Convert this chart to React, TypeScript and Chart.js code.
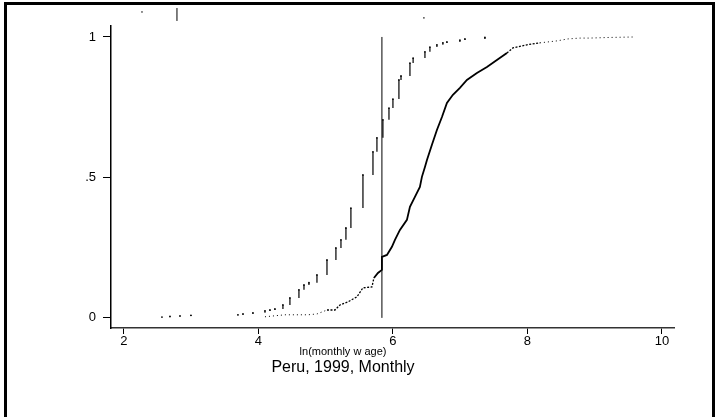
import React, { useEffect, useRef } from "react";
import { Chart, registerables } from "chart.js";

Chart.register(...registerables);

const FONT = '"Liberation Sans", Arial, Helvetica, sans-serif';

const xTicks = [2, 4, 6, 8, 10];
const yTicks = [0, 0.5, 1];
const yTickLabels = ["0", ".5", "1"];
const xTitle = "ln(monthly w age)";
const chartTitle = "Peru, 1999, Monthly";

// reference line (cut-off)
const cutoffX = 5.836;

// left (sparser) cumulative distribution
const leftX = [2.565, 2.684, 2.833, 2.996, 3.695, 3.77, 3.918, 4.097, 4.171, 4.245, 4.364, 4.468, 4.602, 4.677, 4.751, 4.87, 5.019, 5.152, 5.227, 5.301, 5.375, 5.554, 5.703, 5.762, 5.851, 5.941, 6.0, 6.089, 6.12, 6.253, 6.3, 6.476, 6.55, 6.654, 6.743, 6.803, 6.996, 7.071, 7.368];
const leftF = [0.003, 0.005, 0.007, 0.009, 0.011, 0.014, 0.018, 0.025, 0.028, 0.032, 0.046, 0.071, 0.1, 0.117, 0.125, 0.153, 0.206, 0.249, 0.278, 0.32, 0.391, 0.509, 0.591, 0.641, 0.705, 0.747, 0.779, 0.847, 0.861, 0.907, 0.925, 0.947, 0.964, 0.972, 0.979, 0.982, 0.989, 0.993, 0.998];

// right (denser) cumulative distribution
const rightX = [4.097, 4.394, 4.468, 4.617, 4.736, 4.87, 5.019, 5.138, 5.212, 5.331, 5.465, 5.554, 5.688, 5.717, 5.777, 5.836, 5.836, 5.911, 5.985, 6.03, 6.104, 6.208, 6.253, 6.327, 6.401, 6.431, 6.476, 6.506, 6.58, 6.654, 6.729, 6.803, 6.892, 6.996, 7.1, 7.249, 7.398, 7.546, 7.695, 7.784, 7.993, 8.186, 8.439, 8.602, 8.781, 8.929, 9.182, 9.599];
const rightF = [0.004, 0.011, 0.011, 0.011, 0.011, 0.014, 0.028, 0.028, 0.046, 0.057, 0.075, 0.107, 0.11, 0.142, 0.16, 0.171, 0.217, 0.224, 0.253, 0.278, 0.313, 0.349, 0.395, 0.431, 0.466, 0.502, 0.537, 0.562, 0.616, 0.669, 0.715, 0.765, 0.794, 0.819, 0.847, 0.872, 0.893, 0.918, 0.943, 0.961, 0.972, 0.979, 0.986, 0.993, 0.996, 0.996, 0.998, 1.0];

// stray marks above the plot (short vertical ticks: bottom / top values)
const strayX = [2.268, 2.788, 6.461];
const strayLow = [1.086, 1.057, 1.065];
const strayHigh = [1.092, 1.103, 1.071];

export default function App() {
  const ref = useRef<HTMLCanvasElement | null>(null);

  useEffect(() => {
    const canvas = ref.current;
    if (!canvas) return;

    const leftVerticals: any[] = [];
    for (let i = 1; i < leftX.length; i++) {
      leftVerticals.push({ x: leftX[i], y: leftF[i - 1] });
      leftVerticals.push({ x: leftX[i], y: leftF[i] });
      leftVerticals.push({ x: leftX[i], y: null });
    }
    const leftDots = leftX.map((x, i) => ({ x, y: leftF[i] }));
    const rightLine = rightX.map((x, i) => ({ x, y: rightF[i] }));
    const strayMarks: any[] = [];
    strayX.forEach((x, i) => {
      strayMarks.push({ x, y: strayLow[i] });
      strayMarks.push({ x, y: strayHigh[i] });
      strayMarks.push({ x, y: null });
    });

    const textPlugin = {
      id: "texts",
      afterDraw(chart: any) {
        const ctx = chart.ctx;
        ctx.save();
        ctx.fillStyle = "#000";
        ctx.textAlign = "center";
        ctx.textBaseline = "middle";
        ctx.font = `11px ${FONT}`;
        ctx.fillText(xTitle, 343, 352);
        ctx.font = `16px ${FONT}`;
        ctx.fillText(chartTitle, 343, 368);
        ctx.restore();
      },
    };

    const tailStyle = (ctx: any) => {
      const a = ctx.p0.parsed.x;
      const b = ctx.p1.parsed.x;
      if (a < 5.0) return "dot";
      if (a < 5.7) return "dash";
      if (b > 8.2) return "dot";
      if (b > 7.75) return "dash";
      return "solid";
    };

    const chart = new Chart(canvas, {
      type: "scatter",
      data: {
        datasets: [
          {
            type: "line",
            data: [
              { x: cutoffX, y: 0 },
              { x: cutoffX, y: 1 },
            ],
            borderColor: "#000",
            borderWidth: 1,
            pointRadius: 0,
          } as any,
          {
            type: "line",
            data: rightLine,
            borderColor: "#000",
            borderWidth: 1.8,
            pointRadius: 0,
            segment: {
              borderDash: (ctx: any) => {
                const s = tailStyle(ctx);
                return s === "dot" ? [1, 3] : s === "dash" ? [2, 1.5] : undefined;
              },
              borderWidth: (ctx: any) => {
                const s = tailStyle(ctx);
                return s === "dot" ? 1 : s === "dash" ? 1.3 : undefined;
              },
            },
          } as any,
          {
            type: "line",
            data: leftVerticals,
            borderColor: "#000",
            borderWidth: 1.2,
            pointRadius: 0,
            spanGaps: false,
          } as any,
          {
            type: "scatter",
            data: leftDots,
            backgroundColor: "#000",
            borderWidth: 0,
            pointRadius: 0.9,
          } as any,
          {
            type: "line",
            data: strayMarks,
            borderColor: "#000",
            borderWidth: 1,
            pointRadius: 0,
            spanGaps: false,
            clip: false,
          } as any,
        ],
      },
      options: {
        animation: false,
        responsive: false,
        devicePixelRatio: 1,
        layout: { padding: { top: 26, right: 46, left: 0, bottom: 0 } },
        plugins: {
          legend: { display: false },
          tooltip: { enabled: false },
          title: { display: false },
        },
        scales: {
          x: {
            type: "linear",
            min: 1.807,
            max: 10.18,
            afterBuildTicks: (axis: any) => {
              axis.ticks = xTicks.map((v) => ({ value: v }));
            },
            afterFit: (s: any) => {
              s.height = 89;
            },
            ticks: {
              color: "#000",
              font: { size: 13, family: FONT },
              padding: 0,
              maxRotation: 0,
              autoSkip: false,
            },
            grid: {
              display: true,
              drawOnChartArea: false,
              drawTicks: true,
              tickLength: 6,
              tickColor: "#000",
              tickWidth: 1,
            },
            border: { display: true, color: "#333", width: 1.5 },
          },
          y: {
            type: "linear",
            min: -0.036,
            max: 1.039,
            afterBuildTicks: (axis: any) => {
              axis.ticks = yTicks.map((v) => ({ value: v }));
            },
            afterFit: (s: any) => {
              s.width = 111;
            },
            ticks: {
              color: "#000",
              font: { size: 13, family: FONT },
              padding: 7,
              callback: (_v: any, i: number) => yTickLabels[i],
            },
            grid: {
              display: true,
              drawOnChartArea: false,
              drawTicks: true,
              tickLength: 8,
              tickColor: "#000",
              tickWidth: 1,
            },
            border: { display: true, color: "#000", width: 1.5 },
          },
        },
      } as any,
      plugins: [textPlugin],
    });

    return () => chart.destroy();
  }, []);

  return (
    <div style={{ position: "absolute", left: 0, top: 0, width: 720, height: 417, overflow: "hidden", background: "#fff" }}>
      <canvas ref={ref} width={720} height={417} style={{ display: "block", width: 720, height: 417 }} />
      <div
        style={{
          position: "absolute",
          left: 4,
          top: 2,
          width: 705,
          height: 430,
          borderLeft: "3px solid #000",
          borderRight: "3px solid #000",
          borderTop: "3px solid #000",
          pointerEvents: "none",
        }}
      />
    </div>
  );
}
